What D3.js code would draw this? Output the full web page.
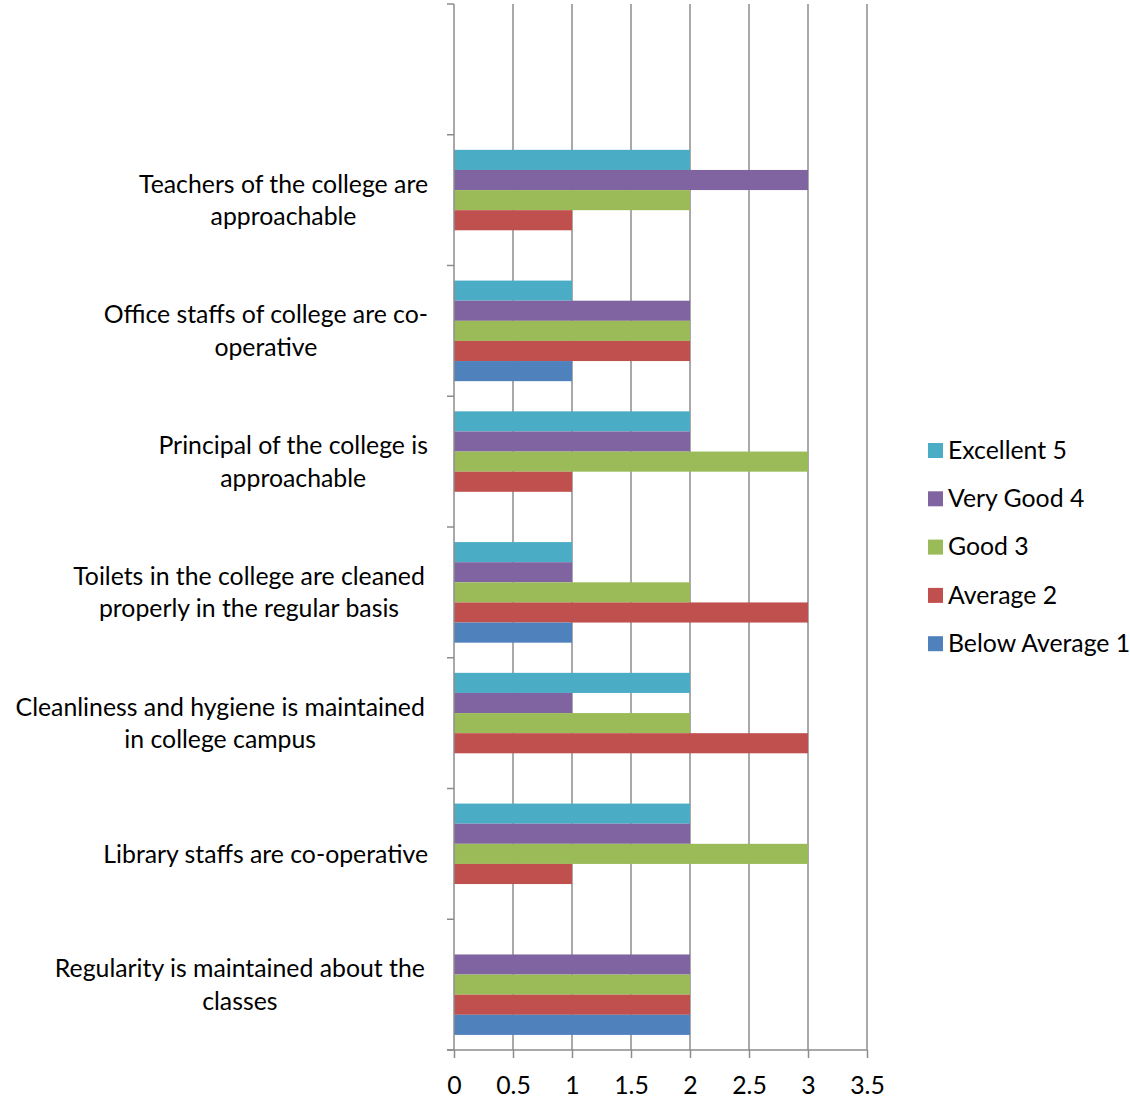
<!DOCTYPE html>
<html><head><meta charset="utf-8">
<script src="https://cdn.jsdelivr.net/npm/d3@7"></script>
<style>
html,body{margin:0;padding:0;background:#fff;}
text{font-family:Lato,"Open Sans",sans-serif;fill:#000;}
</style></head>
<body>
<svg id="chart" width="1130" height="1101"></svg>
<script>
// Categories from top to bottom (top slot is empty in the reference)
const categories = [
  "",
  "Teachers of the college are approachable",
  "Office staffs of college are co-operative",
  "Principal of the college is approachable",
  "Toilets in the college are cleaned properly in the regular basis",
  "Cleanliness and hygiene is maintained in college campus",
  "Library staffs are co-operative",
  "Regularity is maintained about the classes"
];
// Wrapped label lines as displayed
const labelLines = [
  [],
  ["Teachers of the college are", "approachable"],
  ["Office staffs of college are co-", "operative"],
  ["Principal of the college is", "approachable"],
  ["Toilets in the college are cleaned ", "properly in the regular basis"],
  ["Cleanliness and hygiene is maintained ", "in college campus"],
  ["Library staffs are co-operative"],
  ["Regularity is maintained about the ", "classes"]
];
const seriesNames = ["Excellent 5", "Very Good 4", "Good 3", "Average 2", "Below Average 1"];
const excellent    = [0, 2, 1, 2, 1, 2, 2, 0];
const veryGood     = [0, 3, 2, 2, 1, 1, 2, 2];
const good         = [0, 2, 2, 3, 2, 2, 3, 2];
const average      = [0, 1, 2, 1, 3, 3, 1, 2];
const belowAverage = [0, 0, 1, 0, 1, 0, 0, 2];
const seriesValues = [excellent, veryGood, good, average, belowAverage];
const colors = ["#4BACC6", "#8064A2", "#9BBB59", "#C0504D", "#4F81BD"];
const xTicks = [0, 0.5, 1, 1.5, 2, 2.5, 3, 3.5];

const svg = d3.select("#chart");
const x = d3.scaleLinear().domain([0, 3.5]).range([454, 867]);
const y = d3.scaleBand().domain(categories).range([4, 1050]).padding(0);
const inner = d3.scaleBand().domain(seriesNames).range([0, y.bandwidth()]).paddingInner(0).paddingOuter(0.75);
const color = d3.scaleOrdinal().domain(seriesNames).range(colors);
const gridColor = "#8c8c8c";
const fontSize = 24.8, lineH = 32.5, rightEdge = 428;

// vertical gridlines
svg.append("g").selectAll("line").data(xTicks.slice(1)).join("line")
  .attr("x1", d => x(d)).attr("x2", d => x(d))
  .attr("y1", y.range()[0]).attr("y2", y.range()[1])
  .attr("stroke", gridColor).attr("stroke-width", 1.5);

// bars
const rows = [];
categories.forEach((c, ci) => seriesNames.forEach((s, si) => {
  const v = seriesValues[si][ci];
  if (v > 0) rows.push({c, s, v});
}));
svg.append("g").selectAll("rect").data(rows).join("rect")
  .attr("x", x(0))
  .attr("y", d => y(d.c) + inner(d.s))
  .attr("width", d => x(d.v) - x(0))
  .attr("height", inner.bandwidth())
  .attr("fill", d => color(d.s));

// y axis line and ticks at band boundaries
const yTicks = categories.map(c => y(c)).concat([y.range()[1]]);
svg.append("line").attr("x1", x(0)).attr("x2", x(0))
  .attr("y1", y.range()[0]).attr("y2", y.range()[1])
  .attr("stroke", gridColor).attr("stroke-width", 1.5);
svg.append("g").selectAll("line").data(yTicks).join("line")
  .attr("x1", x(0) - 7).attr("x2", x(0))
  .attr("y1", d => d).attr("y2", d => d)
  .attr("stroke", gridColor).attr("stroke-width", 1.5);

// x axis
const xAxis = d3.axisBottom(x).tickValues(xTicks).tickFormat(d => String(d))
  .tickSizeInner(8).tickSizeOuter(0).tickPadding(18);
const gx = svg.append("g").attr("transform", `translate(0,${y.range()[1]})`).call(xAxis);
gx.select(".domain").remove();
gx.selectAll(".tick line").attr("stroke", gridColor).attr("stroke-width", 1.5);
gx.selectAll(".tick text").attr("font-size", fontSize).attr("font-family", "Lato").attr("fill", "#000");
svg.append("line").attr("x1", x(0) - 7).attr("x2", x(3.5))
  .attr("y1", y.range()[1]).attr("y2", y.range()[1])
  .attr("stroke", gridColor).attr("stroke-width", 1.5);

// category labels (centered block, right edge near axis)
const meas = svg.append("text").attr("font-size", fontSize).style("white-space", "pre");
categories.forEach((c, ci) => {
  const lines = labelLines[ci];
  if (!lines.length) return;
  let maxW = 0;
  lines.forEach(l => { meas.text(l); maxW = Math.max(maxW, meas.node().getComputedTextLength()); });
  const cx = rightEdge - maxW / 2;
  const cy = y(c) + y.bandwidth() / 2;
  const t = svg.append("text").attr("font-size", fontSize).attr("text-anchor", "middle");
  lines.forEach((l, i) => {
    t.append("tspan").attr("x", cx)
      .attr("y", cy + (i - (lines.length - 1) / 2) * lineH)
      .attr("dy", "0.35em").text(l.trim());
  });
});
meas.remove();

// legend
const lg = svg.append("g").selectAll("g").data(seriesNames).join("g")
  .attr("transform", (d, i) => `translate(928,${450 + i * 48.3})`);
lg.append("rect").attr("x", 0).attr("y", -7).attr("width", 15).attr("height", 15).attr("fill", d => color(d));
lg.append("text").attr("x", 20).attr("dy", "0.35em").attr("font-size", fontSize).text(d => d);
</script>
</body></html>
